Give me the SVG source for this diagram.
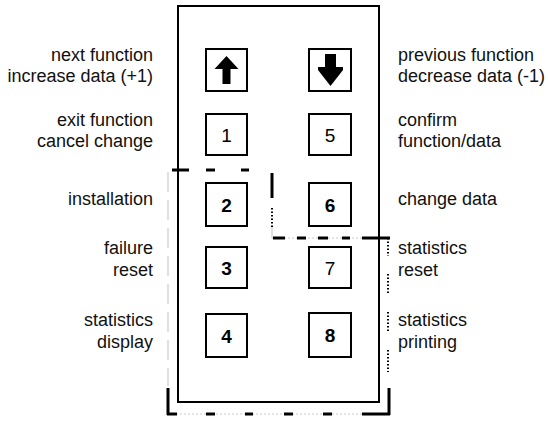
<svg xmlns="http://www.w3.org/2000/svg" width="548" height="421" viewBox="0 0 548 421">
<style>
.lbl{font-family:"Liberation Sans",Arial,sans-serif;font-size:18px;fill:#111}
.l{text-anchor:end}
.num{font-family:"Liberation Sans",Arial,sans-serif;font-size:19px;text-anchor:middle;fill:#000}
.b{font-weight:bold}
.key{fill:#fff;stroke:#000;stroke-width:2}
.thick{stroke:#000;stroke-width:3;fill:none}
.gray{stroke:#ccc;stroke-width:1.2;fill:none}
.dot{stroke:#000;stroke-width:2;fill:none;stroke-dasharray:1.5 2}
</style>
<rect width="548" height="421" fill="#fff"/>
<g id="panel"><rect x="178" y="6" width="201" height="396" fill="none" stroke="#000" stroke-width="2"/></g>
<g id="connectors">
<line class="thick" x1="172" y1="170" x2="189" y2="170"/>
<line class="thick" x1="206" y1="170" x2="215" y2="170"/>
<line class="thick" x1="241" y1="170" x2="249" y2="170"/>
<line class="gray" x1="168" y1="172" x2="168" y2="386" stroke-dasharray="20 8"/>
<line class="thick" x1="168" y1="388" x2="168" y2="415"/>
<line class="gray" x1="168" y1="414" x2="388" y2="414" stroke-width="2" stroke-dasharray="2 2"/>
<g class="thick">
<line x1="167" y1="414" x2="177" y2="414"/>
<line x1="206" y1="414" x2="215" y2="414"/>
<line x1="245" y1="414" x2="253" y2="414"/>
<line x1="284" y1="414" x2="293" y2="414"/>
<line x1="323" y1="414" x2="332" y2="414"/>
<line x1="362" y1="414" x2="390" y2="414"/>
</g>
<line class="thick" x1="389" y1="388" x2="389" y2="415"/>
<line class="dot" x1="388" y1="238" x2="388" y2="256"/>
<line class="dot" x1="388" y1="274" x2="388" y2="294"/>
<line class="dot" x1="388" y1="312" x2="388" y2="332"/>
<line class="dot" x1="388" y1="350" x2="388" y2="372"/>
<line class="thick" x1="272" y1="173" x2="272" y2="198"/>
<line class="dot" x1="272" y1="208" x2="272" y2="227"/>
<line class="gray" x1="272" y1="227" x2="272" y2="238" stroke-width="1"/>
<line class="gray" x1="272" y1="238" x2="362" y2="238" stroke-width="2" stroke-dasharray="2 2"/>
<g class="thick">
<line x1="273" y1="238" x2="285" y2="238"/>
<line x1="297" y1="238" x2="306" y2="238"/>
<line x1="318" y1="238" x2="328" y2="238"/>
<line x1="342" y1="238" x2="350" y2="238"/>
<line x1="362" y1="238" x2="390" y2="238"/>
</g>
</g>
<g id="key-up">
<rect class="key" x="206" y="49" width="41" height="42"/>
<polygon points="226.5,56 238.5,69 230.5,69 230.5,84 222.5,84 222.5,69 214.5,69" fill="#000"/>
</g>
<g id="key-down">
<rect class="key" x="309" y="49" width="42" height="42"/>
<polygon points="325,54 336,54 336,67 343,67 343,70 330.5,86 318,70 318,67 325,67" fill="#000"/>
</g>
<g id="key-1"><rect class="key" x="206" y="114" width="41" height="41"/><text class="num" x="226.5" y="141.5">1</text></g>
<g id="key-5"><rect class="key" x="309" y="114" width="42" height="41"/><text class="num" x="330" y="141.5">5</text></g>
<g id="key-2"><rect class="key" x="206" y="183" width="41" height="43"/><text class="num b" x="226.5" y="211.5">2</text></g>
<g id="key-6"><rect class="key" x="309" y="183" width="42" height="43"/><text class="num b" x="330" y="211.5">6</text></g>
<g id="key-3"><rect class="key" x="206" y="247" width="41" height="41"/><text class="num b" x="226.5" y="274.5">3</text></g>
<g id="key-7"><rect class="key" x="309" y="247" width="42" height="41"/><text class="num" x="330" y="274.5">7</text></g>
<g id="key-4"><rect class="key" x="206" y="314" width="41" height="43"/><text class="num b" x="226.5" y="342.5">4</text></g>
<g id="key-8"><rect class="key" x="309" y="313" width="42" height="44" stroke-width="3"/><text class="num b" x="330" y="342">8</text></g>
<g id="labels-left">
<text class="lbl l" x="153" y="61">next function</text>
<text class="lbl l" x="153" y="82">increase data (+1)</text>
<text class="lbl l" x="153" y="126">exit function</text>
<text class="lbl l" x="153" y="147">cancel change</text>
<text class="lbl l" x="153" y="205">installation</text>
<text class="lbl l" x="153" y="254">failure</text>
<text class="lbl l" x="153" y="276">reset</text>
<text class="lbl l" x="153" y="326">statistics</text>
<text class="lbl l" x="153" y="348">display</text>
</g>
<g id="labels-right">
<text class="lbl" x="398" y="61">previous function</text>
<text class="lbl" x="398" y="82">decrease data (-1)</text>
<text class="lbl" x="398" y="126">confirm</text>
<text class="lbl" x="398" y="147">function/data</text>
<text class="lbl" x="398" y="205">change data</text>
<text class="lbl" x="398" y="254">statistics</text>
<text class="lbl" x="398" y="276">reset</text>
<text class="lbl" x="398" y="326">statistics</text>
<text class="lbl" x="398" y="348">printing</text>
</g>
</svg>
